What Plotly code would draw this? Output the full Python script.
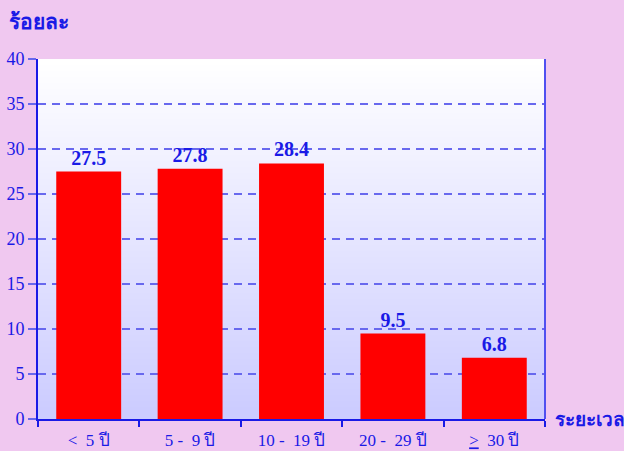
import plotly.graph_objects as go

categories = ['< 5 ปี', '5 - 9 ปี', '10 - 19 ปี', '20 - 29 ปี', '≥ 30 ปี']
tick_labels = ['<  5 ปี', '5 -  9 ปี', '10 -  19 ปี', '20 -  29 ปี', '<u>></u>  30 ปี']
percent = [27.5, 27.8, 28.4, 9.5, 6.8]

blue = '#1a1ae6'
grid = '#6868ee'
serif = 'Liberation Serif, serif'

fig = go.Figure(go.Bar(
    x=categories, y=percent,
    marker=dict(color='#ff0000', line=dict(width=0)),
    width=0.64,
    text=[f'<b>{v:.1f}</b>' for v in percent],
    textposition='outside',
    textfont=dict(family=serif, size=20, color=blue),
    cliponaxis=False,
))

# gradient background for the plot area (white at top -> lavender at bottom)
n = 60
for i in range(n):
    t = i / (n - 1)
    c = int(255 - (255 - 204) * t)
    fig.add_shape(type='rect', xref='x domain', yref='y domain',
                  x0=0, x1=1, y0=1 - (i + 1.3) / n, y1=1 - i / n,
                  fillcolor=f'rgb({c},{c},255)', line=dict(width=0), layer='below')

fig.update_layout(
    width=624, height=451,
    margin=dict(l=38, r=79, t=59, b=32),
    paper_bgcolor='#f0c8f0',
    plot_bgcolor='rgba(0,0,0,0)',
    showlegend=False,
    font=dict(family=serif, color=blue, size=16),
)
fig.update_xaxes(
    tickmode='array', tickvals=categories, ticktext=tick_labels,
    tickson='boundaries', ticks='outside', ticklen=6, tickcolor=blue, tickwidth=2,
    showline=True, linecolor=blue, linewidth=2, automargin=False,
    showgrid=False, tickfont=dict(size=17, color=blue), ticklabelstandoff=5,
)
fig.update_yaxes(
    range=[0, 40], dtick=5, ticks='outside', ticklen=8, tickcolor=grid, tickwidth=2,
    showline=True, linecolor=blue, linewidth=2, automargin=False,
    showgrid=True, gridcolor=grid, griddash='8px,6px', gridwidth=1.6,
    zeroline=False, tickfont=dict(size=18, color=blue),
)
# right border of the plot area
fig.add_shape(type='line', xref='x domain', yref='y domain', x0=1, x1=1, y0=0, y1=1,
              line=dict(color='#5050f0', width=2))

fig.add_annotation(text='<b>ร้อยละ</b>', xref='paper', yref='paper', x=-0.062, y=1.0,
                   yshift=37, xanchor='left', yanchor='middle', showarrow=False,
                   font=dict(size=21, color=blue))
fig.add_annotation(text='<b>ระยะเวลา</b>', xref='paper', yref='paper', x=1.0, y=0,
                   xshift=8, xanchor='left', yanchor='middle', showarrow=False,
                   font=dict(size=19, color=blue))

fig.write_html('out.html', config={'displayModeBar': False},
               post_script="document.body.style.margin='0';")
